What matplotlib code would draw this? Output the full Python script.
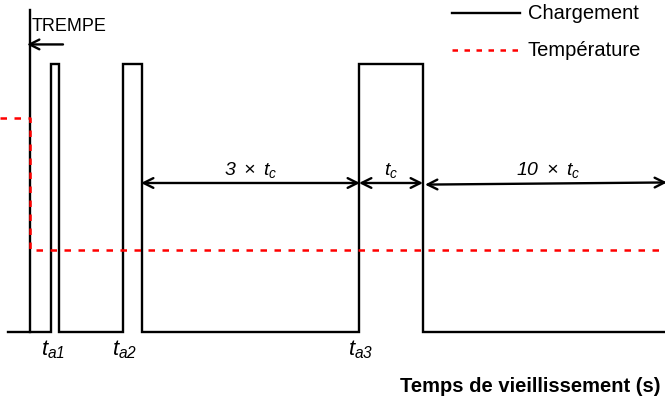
import matplotlib.pyplot as plt

plt.rcParams['font.family'] = 'Liberation Sans'
plt.rcParams['mathtext.fontset'] = 'custom'
plt.rcParams['mathtext.rm'] = 'Liberation Sans:italic'
plt.rcParams['mathtext.it'] = 'Liberation Sans:italic'

# schematic time axis (arbitrary units)
t_end = 657
t_quench = 22
pulse_start = [43, 115, 351]
pulse_end = [51, 134, 415]
pulse_labels = [r'$t_{a1}$', r'$t_{a2}$', r'$t_{a3}$']
load_high = 1.0

# temperature levels (relative)
temp_t = [-8, t_quench, t_quench, t_end]
temp_v = [0.80, 0.80, 0.306, 0.306]

# build the load signal
load_t = [0]
load_v = [0]
for s, e in zip(pulse_start, pulse_end):
    load_t += [s, s, e, e]
    load_v += [0, load_high, load_high, 0]
load_t.append(t_end)
load_v.append(0)

fig = plt.figure(figsize=(6.65, 4.0), dpi=100)
ax = fig.add_axes([0, 0, 1, 1])
ax.set_xlim(-8, 657)
ax.set_ylim(-68 / 268, 332 / 268)
ax.axis('off')

lw = 1.7
ax.plot(load_t, load_v, color='black', lw=lw, solid_joinstyle='miter')
ax.plot([t_quench, t_quench], [0, 1.2], color='black', lw=lw)
ax.plot(temp_t, temp_v, color='red', lw=1.8, dashes=(2.6, 3))

# quench marker
hs1 = '->,head_length=0.7,head_width=0.35'
ax.annotate('', xy=(t_quench - 3, 1.073), xytext=(t_quench + 33, 1.073),
            arrowprops=dict(arrowstyle=hs1, color='black', lw=lw, shrinkA=0, shrinkB=0))
ax.text(t_quench + 2, 1.14, 'TREMPE', fontsize=13, va='center', ha='left')

# durations
arrow_y = 0.556
hs = '<->,head_length=0.7,head_width=0.35'
ax.annotate('', xy=(pulse_end[1] - 1, arrow_y), xytext=(pulse_start[2] + 1, arrow_y),
            arrowprops=dict(arrowstyle=hs, color='black', lw=lw, shrinkA=0, shrinkB=0))
ax.annotate('', xy=(pulse_start[2], arrow_y), xytext=(pulse_end[2], arrow_y),
            arrowprops=dict(arrowstyle=hs, color='black', lw=lw, shrinkA=0, shrinkB=0))
ax.annotate('', xy=(pulse_end[2] + 2, arrow_y - 0.006), xytext=(t_end + 2, arrow_y + 0.002),
            arrowprops=dict(arrowstyle=hs, color='black', lw=lw, shrinkA=0, shrinkB=0))
ax.text((pulse_end[1] + pulse_start[2]) / 2, arrow_y + 0.012, r'$3\ \times\ t_c$',
        fontsize=14, ha='center', va='bottom')
ax.text((pulse_start[2] + pulse_end[2]) / 2, arrow_y + 0.012, r'$t_c$',
        fontsize=14, ha='center', va='bottom')
ax.text(540, arrow_y + 0.012, r'$10\ \times\ t_c$',
        fontsize=14, ha='center', va='bottom')

# pulse time labels
for s, lab in zip(pulse_start, pulse_labels):
    ax.text(s + 2, -0.065, lab, fontsize=16, ha='center', va='center')

ax.text(652, -0.205, 'Temps de vieillissement (s)', fontsize=14.5,
        fontweight='bold', ha='right', va='center')

# legend
ax.plot([444, 512], [1.19, 1.19], color='black', lw=lw)
ax.plot([444, 512], [1.052, 1.052], color='red', lw=1.8, dashes=(2.2, 2.6))
ax.text(520, 1.19, 'Chargement', fontsize=14.5, va='center', ha='left')
ax.text(520, 1.052, 'Température', fontsize=14.5, va='center', ha='left')

fig.savefig('out.png', dpi=100)
